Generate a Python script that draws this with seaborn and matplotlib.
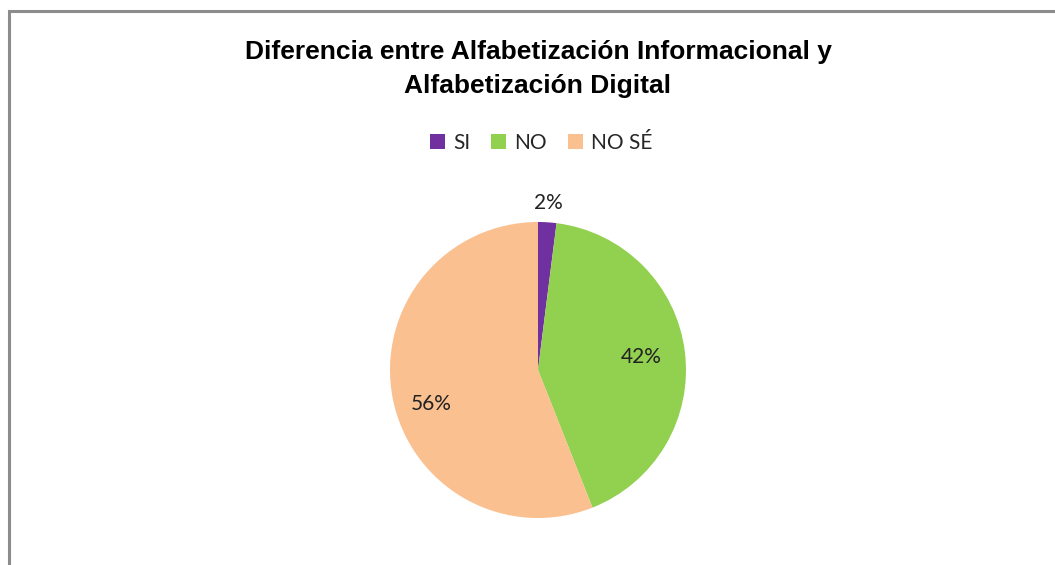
import matplotlib
matplotlib.use("Agg")
import matplotlib.pyplot as plt
import seaborn as sns
import numpy as np
from matplotlib.patches import Rectangle, Patch

categories = ["SI", "NO", "NO SÉ"]
values = [2, 42, 56]
colors = ["#7030A0", "#92D050", "#FAC090"]
title = "Diferencia entre Alfabetización Informacional y\nAlfabetización Digital"

sns.set_theme(style="white")
plt.rcParams['font.family'] = ['Liberation Sans', 'DejaVu Sans']

W, H = 1055, 565
fig = plt.figure(figsize=(W / 100, H / 100), dpi=100)
fig.patch.set_facecolor("white")

# chart border (clipped at right and bottom like the reference)
fig.patches.append(Rectangle((9 / W, -0.1), 1.2, 1 - 11.5 / H + 0.1, transform=fig.transFigure,
                             fill=False, edgecolor="#8c8c8c", linewidth=2.2))

cx, cy, r = 538, 370, 148
ax = fig.add_axes([(cx - r) / W, (H - cy - r) / H, 2 * r / W, 2 * r / H])
wedges, texts, autotexts = ax.pie(values, colors=colors, startangle=90, counterclock=False,
                                  autopct=lambda p: f"{p:.0f}%", pctdistance=0.70,
                                  textprops=dict(fontsize=15, color="#222222",
                                                 family=['Lato', 'DejaVu Sans']),
                                  wedgeprops=dict(linewidth=0))
# label placement like the reference (small slice outside, large slice nudged)
label_dist = [1.13, 0.70, 0.76]
label_shift = [0, 0, 7]
for w, t, d, s in zip(wedges, autotexts, label_dist, label_shift):
    ang = np.deg2rad((w.theta1 + w.theta2) / 2 + s)
    t.set_position((d * np.cos(ang), d * np.sin(ang)))
ax.set_aspect("equal")
ax.set_xlim(-1, 1)
ax.set_ylim(-1, 1)
ax.axis("off")

fig.text(cx / W, 1 - 69 / H, title, ha="center", va="center", fontsize=19,
         fontweight="bold", color="black", linespacing=1.5)

handles = [Patch(facecolor=c, edgecolor="none") for c in colors]
fig.legend(handles, categories, loc="center", bbox_to_anchor=(541 / W, 1 - 143 / H), ncol=3,
           frameon=False, handlelength=0.72, handleheight=0.72,
           handletextpad=0.4, columnspacing=1.0, prop=dict(family=['Lato', 'DejaVu Sans'], size=15))

fig.savefig("out.png", dpi=100)
